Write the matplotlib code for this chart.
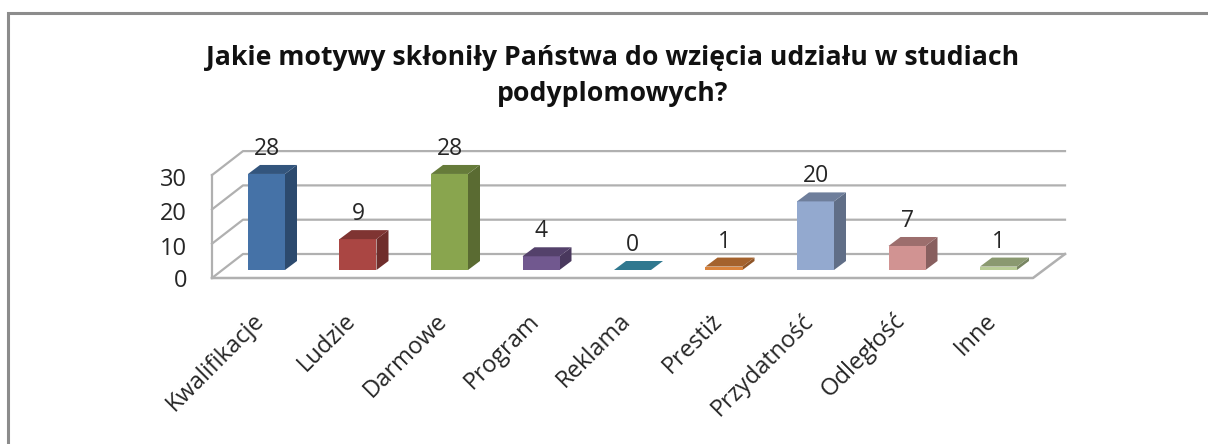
import matplotlib
matplotlib.use("Agg")
from matplotlib import pyplot as plt
from matplotlib.patches import Polygon

categories = ["Kwalifikacje", "Ludzie", "Darmowe", "Program", "Reklama",
              "Prestiż", "Przydatność", "Odległość", "Inne"]
values = [28, 9, 28, 4, 0, 1, 20, 7, 1]
y_ticks = [0, 10, 20, 30]
title = "Jakie motywy skłoniły Państwa do wzięcia udziału w studiach\npodyplomowych?"

front_colors = ["#4572a7", "#aa4643", "#89a54e", "#71588f", "#4198af",
                "#db843d", "#93a9cf", "#d19392", "#b9cd96"]
top_colors = ["#33557d", "#7f3432", "#667b3a", "#54416b", "#30788f",
              "#a4622d", "#6e7e9b", "#9c6e6d", "#8a9970"]
side_colors = ["#2c4a6e", "#6f2d2b", "#5a6b32", "#49385d", "#2a6a7a",
               "#8f5527", "#606e87", "#885f5f", "#788562"]
grid_color = "#b0b0b0"
border_color = "#8c8c8c"
text_color = "#262626"

W, H = 1208, 444
x_step = 91.5      # px per category
y_unit = 3.43      # px per value
x0_px = 266.5      # px of first bar centre
y0_px = 270.0      # px of bar baseline

# plain px sizes turned into data units
bar_w = 37 / x_step
depth_x = 12 / x_step
depth_y = 9 / y_unit


def dx(px):
    return px / x_step


def dy(px):
    return px / y_unit


plt.rcParams['font.family'] = ['Open Sans', 'DejaVu Sans']

fig = plt.figure(figsize=(W / 100, H / 100), dpi=100)
ax = fig.add_axes([0, 0, 1, 1])
ax.set_xlim(-x0_px / x_step, (W - x0_px) / x_step)
ax.set_ylim((y0_px - H) / y_unit, y0_px / y_unit)
ax.axis("off")

# chart border, left and top only are in the crop
ax.plot([dx(8.5 - x0_px), dx(8.5 - x0_px), dx(W - x0_px)],
        [dy(y0_px - H), dy(y0_px - 13.5), dy(y0_px - 13.5)],
        color=border_color, lw=2.2, solid_joinstyle="miter")

# floor and walls
fl = dx(212 - x0_px)
fr = dx(1033 - x0_px)
bl = dx(243 - x0_px)
br = dx(1065 - x0_px)
f0 = dy(y0_px - 278)
b0 = dy(y0_px - 254)
for t in y_ticks:
    ax.plot([fl, bl, br], [f0 + t, b0 + t, b0 + t], color=grid_color, lw=1.6, zorder=1)
ax.plot([fl, fl], [f0, f0 + y_ticks[-1]], color=grid_color, lw=1.6, zorder=1)
ax.plot([fl, fr, br], [f0, f0, b0], color=grid_color, lw=1.8, zorder=1)

# y labels
for t in y_ticks:
    ax.text(dx(187 - x0_px), f0 + t + dy(-5 if t > 0 else -3), str(t), ha="right", va="center",
            fontsize=17, color=text_color)

# bars
for i, v in enumerate(values):
    l = i - bar_w / 2
    r = i + bar_w / 2
    if v > 0:
        ax.add_patch(Polygon([(r, 0), (r + depth_x, depth_y), (r + depth_x, v + depth_y), (r, v)],
                             fc=side_colors[i], ec="none", zorder=3))
        ax.add_patch(Polygon([(l, 0), (r, 0), (r, v), (l, v)],
                             fc=front_colors[i], ec="none", zorder=4))
    ax.add_patch(Polygon([(l, v), (r, v), (r + depth_x, v + depth_y), (l + depth_x, v + depth_y)],
                         fc=top_colors[i], ec="none", zorder=4))
    ax.text(i, v + depth_y + dy(4), str(v), ha="center", va="bottom",
            fontsize=16.5, color=text_color, zorder=5)

# category labels
for i, c in enumerate(categories):
    ax.text(i - dx(14), dy(y0_px - 309), c, rotation=45, rotation_mode="anchor",
            ha="right", va="top", fontsize=17, color=text_color)

ax.text(dx(613 - x0_px), dy(y0_px - 76), title, ha="center", va="center",
        fontsize=19.2, fontweight="bold", color="#111111", linespacing=1.5)

fig.savefig("out.png", dpi=100)
